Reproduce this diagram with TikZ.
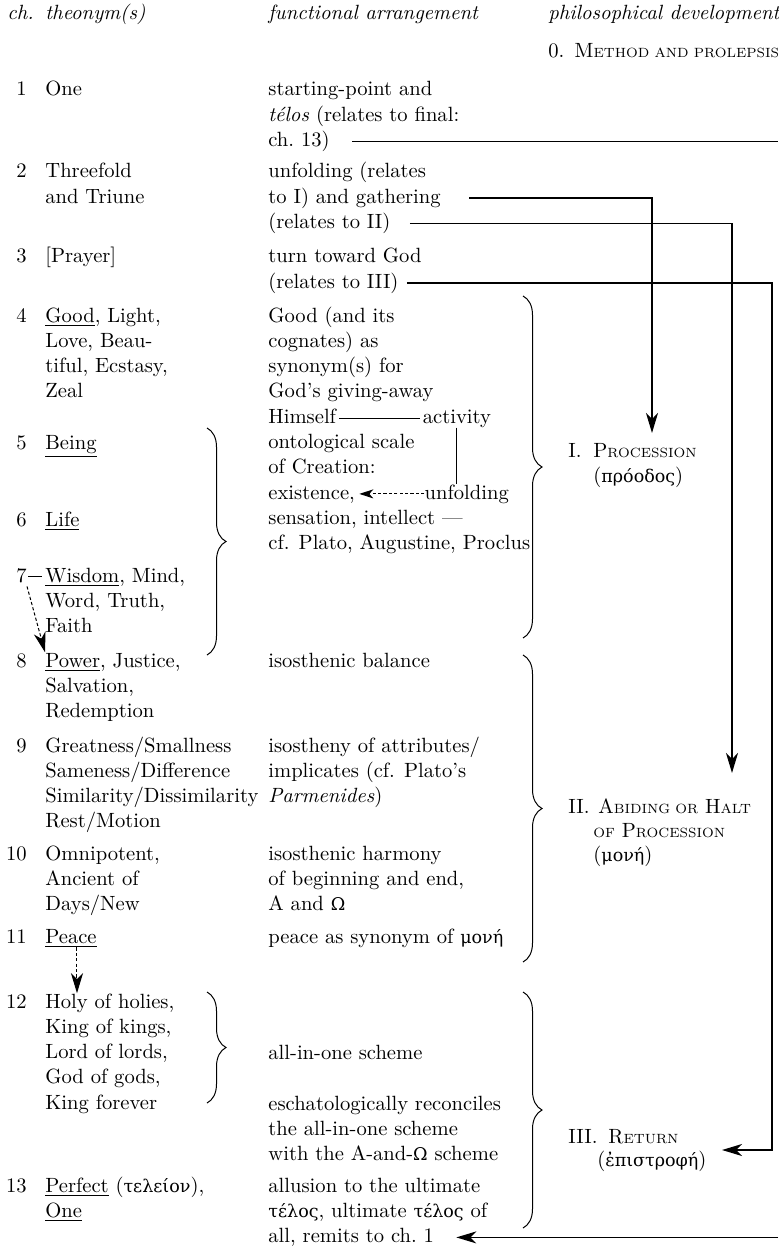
\documentclass[tikz,border=0pt]{standalone}
\usepackage{fontspec}
\newfontfamily\grk[Scale=0.85]{DejaVu Serif}
\newcommand\smallcap[1]{{\fontsize{6.7}{8}\selectfont #1}}
\usepackage{tikz}
\usetikzlibrary{positioning}
\usetikzlibrary{arrows.meta}
\usetikzlibrary{decorations.pathreplacing}

\begin{document}
\begin{tikzpicture}[x=0.5pt, y=-0.5pt, font=\fontsize{10.3}{12.75}\selectfont,
    ln/.style = {anchor=base west, inner sep=0pt, text height=7.2pt, text depth=2pt},
    num/.style = {anchor=base east, inner sep=0pt, text height=7.2pt, text depth=2pt},
    link/.style = {line width=0.7pt},
    rule/.style = {line width=0.5pt},
    dlink/.style = {line width=0.5pt, dash pattern=on 1.6pt off 1.1pt},
    tip/.style = {-{Stealth[length=10pt, width=6pt, inset=3pt]}},
    brc/.style = {decorate, decoration={brace, amplitude=9.5pt}, line width=0.5pt}]
    \path[use as bounding box, fill=white] (0,0) rectangle (778,1251);

    % headings
    \node[ln] (hch) at (7,20) {\textit{ch.}};
    \node[ln] (hth) at (45,20) {\textit{theonym(s)}};
    \node[ln] (hfa) at (268,20) {\textit{functional arrangement}};
    \node[ln] (hpd) at (548,20) {\textit{philosophical development}};

    % chapter numbers
    \foreach \r/\yb in {1/96, 2/178, 3/263, 4/322, 5/449.5, 6/526, 7/582, 8/667, 9/752, 10/860, 11/943, 12/1008, 13/1192}
        \node[num] (n\r) at (27,\yb) {\r};

    % theonyms
    \foreach \r/\yb/\lines in {1/96/{{One}},
            2/178/{{Threefold},{and Triune}},
            3/263/{{[Prayer]}},
            4/322/{{\underline{Good}, Light,},{Love, Beau-},{tiful, Ecstasy,},{Zeal}},
            5/449.5/{{\underline{Being}}},
            6/526/{{\underline{Life}}},
            7/582/{{\underline{Wisdom}, Mind,},{Word, Truth,},{Faith}},
            8/667/{{\underline{Power}, Justice,},{Salvation,},{Redemption}},
            9/752/{{Greatness/Smallness},{Sameness/Difference},{Similarity/Dissimilarity},{Rest/Motion}},
            10/860/{{Omnipotent,},{Ancient of},{Days/New}},
            11/943/{{\underline{Peace}}},
            12/1008/{{Holy of holies,},{King of kings,},{Lord of lords,},{God of gods,},{King forever}},
            13/1192/{{\underline{Perfect} ({\grk τελείον}),},{\underline{One}}}}
        \foreach \t [count=\i] in \lines
            \node[ln] (th\r-\i) at (45,{\yb+25.3*(\i-1)}) {\t};

    % functional arrangement
    \foreach \r/\yb/\lines in {1/96/{{starting-point and},{\textit{télos} (relates to final:},{ch.\ 13)}},
            2/178/{{unfolding (relates},{to I) and gathering},{(relates to II)}},
            3/263/{{turn toward God},{(relates to III)}},
            4/322/{{Good (and its},{cognates) as},{synonym(s) for},{God’s giving-away},{Himself},{ontological scale},{of Creation:},{existence,},{sensation, intellect ---},{cf. Plato, Augustine, Proclus}},
            8/667/{{isosthenic balance}},
            9/752/{{isostheny of attributes/},{implicates (cf. Plato’s},{\textit{Parmenides})}},
            10/860/{{isosthenic harmony},{of beginning and end,},{A and {\grk Ω}}},
            11/943/{{peace as synonym of {\grk μονή}}},
            12a/1059/{{all-in-one scheme}},
            12b/1110/{{eschatologically reconciles},{the all-in-one scheme},{with the A-and-{\grk Ω} scheme}},
            13/1192/{{allusion to the ultimate},{{\grk τέλος}, ultimate {\grk τέλος} of},{all, remits to ch.\ 1}}}
        \foreach \t [count=\i] in \lines
            \node[ln] (fa\r-\i) at (268,{\yb+25.3*(\i-1)}) {\t};

    \node[ln, base right=43pt of fa4-5] (act) {activity};
    \node[ln, base right=34.5pt of fa4-8] (unf) {unfolding};

    % philosophical development
    \node[ln] (meth) at (548,58) {0.\enspace M\smallcap{ETHOD AND PROLEPSIS}};
    \node[ln] (numI) at (568,457) {I.};
    \node[ln] (procI) at (593,457) {P\smallcap{ROCESSION}};
    \node[ln] (grI) at (593,482) {({\grk πρόοδος})};
    \node[ln] (numII) at (568,813) {II.};
    \node[ln] (procII) at (598,813) {A\smallcap{BIDING OR} H\smallcap{ALT}};
    \node[ln] (procIIb) at (593,837.5) {\smallcap{OF} P\smallcap{ROCESSION}};
    \node[ln] (grII) at (593,861) {({\grk μονή})};
    \node[ln] (numIII) at (568,1143) {III.};
    \node[ln] (procIII) at (608,1143) {R\smallcap{ETURN}};
    \node[ln] (grIII) at (597,1166) {({\grk ἐπιστροφή})};

    \coordinate (edge) at (778,0);
    \coordinate (tipI) at (652,433);
    \coordinate (tipII) at (732,773);
    \coordinate (bendIII) at (772,1150);
    \coordinate (tipIII) at (722,1150);

    % braces
    \draw[brc] (207,428) -- (207,655);
    \draw[brc] (207,992) -- (207,1103);
    \draw[brc] (523,296) -- (523,638);
    \draw[brc] (523,655) -- (523,962);
    \draw[brc] (523,992) -- (523,1228);

    % connectors
    \draw[link, shorten <=11pt] (fa1-3.east) -- (fa1-3.east -| edge);
    \draw[link, tip, shorten <=14pt] (fa2-2.east) -| (tipI);
    \draw[link, tip, shorten <=9.5pt] (fa2-3.east) -| (tipII);
    \draw[link, tip, shorten <=4pt] (fa3-2.east) -| (bendIII) -- (tipIII);
    \draw[link, tip, shorten >=11pt] (fa13-3.east -| edge) -- (fa13-3.east);

    \draw[rule, shorten <=1.5pt, shorten >=1pt] (fa4-5.east) -- (act.west);
    \draw[rule] (act.south) -- (act.south |- unf.north);
    \draw[dlink, -{Stealth[length=7pt, width=4.5pt, inset=2pt]}, shorten >=2pt] (unf.west) -- (fa4-8.east);

    \draw[rule, shorten <=0.5pt, shorten >=1.5pt] (n7.east) -- (th7-1.west);
    \draw[dlink, tip] (n7.south east) -- (th8-1.north west);
    \draw[dlink, tip] ([xshift=3pt]th11-1.south) -- ([xshift=3pt]th11-1.south |- th12-1.north);
\end{tikzpicture}
\end{document}
